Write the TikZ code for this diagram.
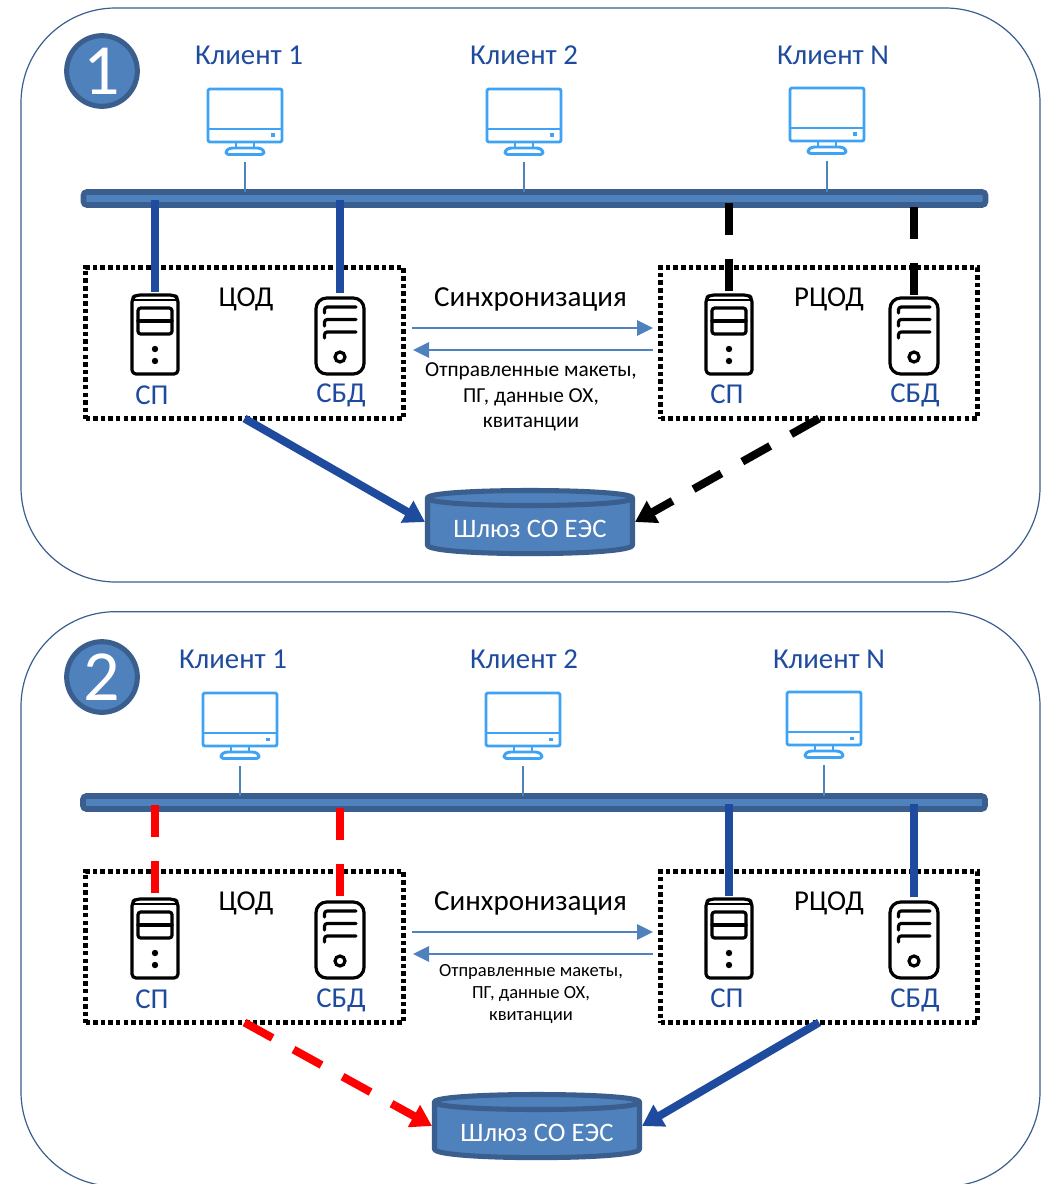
\documentclass[tikz,border=0pt]{standalone}
\usepackage{fontspec}
\setmainfont{Carlito}
\usetikzlibrary{arrows.meta,calc}
\definecolor{barfill}{HTML}{4F81BD}
\definecolor{barline}{HTML}{3A5F8F}
\definecolor{linkblue}{HTML}{1F4B9F}
\definecolor{monblue}{HTML}{3FA3F5}
\tikzset{
  every node/.style={outer sep=0pt,inner sep=0pt},
  panelbox/.style={draw=barline,line width=0.9pt,rounded corners=71pt,minimum width=764.25pt,fill=white},
  badge/.style={circle,draw=barline,fill=barfill,line width=3.8pt,minimum size=53pt,text=white,font=\fontsize{54}{54}\selectfont},
  busbar/.style={draw=barline,fill=barfill,line width=4.2pt,rounded corners=2.5pt,minimum width=676.5pt,minimum height=9.75pt},
  dotbox/.style={draw=black,line width=3.4pt,dash pattern=on 3.4pt off 2.3pt,minimum height=113.25pt},
  iconbox/.style={minimum width=37.5pt,minimum height=60pt},
  monbox/.style={minimum width=57pt,minimum height=51pt},
  clientlabel/.style={text=linkblue,font=\fontsize{21.6}{21.6}\selectfont},
  srvlabel/.style={text=linkblue,font=\fontsize{21.6}{21.6}\selectfont},
  dclabel/.style={text=black,font=\fontsize{21.6}{21.6}\selectfont},
  synclabel/.style={text=black,font=\fontsize{21.8}{21.8}\selectfont},
  smalllabel/.style={text=black,font=\fontsize{13.9}{16.5}\selectfont,align=center},
  gwlabel/.style={text=white,font=\fontsize{20}{20}\selectfont},
  cylbox/.style={minimum width=157.5pt,minimum height=50pt},
  clientlink/.style={draw=barfill,line width=0.9pt,shorten <=4.5pt},
  synclink/.style={draw=barfill,line width=1.6pt,-{Triangle[length=12pt,width=11.5pt]}},
  thick link/.style={line width=6pt},
  bigline/.style={line width=6pt},
  bigarrow/.style={line width=6pt,-{Triangle[length=15.5pt,width=18pt]}},
  longdash/.style={dash pattern=on 24pt off 18pt,shorten >=32pt},
  stubdash/.style={dash pattern=on 24pt off 18pt},
  iconline/.style={draw=black,line width=2.4pt,line join=round,line cap=round},
  monline/.style={draw=monblue,line width=2.2pt,line join=round}
}
% monitor icon, (#2,#3) = centre x, top y
\newcommand{\MonitorIcon}[3]{%
  \node[monbox] (#1) at (#2,#3+34) {};
  \begin{scope}[shift={(#2,#3)}]
    \draw[monline,rounded corners=1.5pt] (-37,1) rectangle (37,54);
    \draw[monline] (-37,41) -- (37,41);
    \fill[monblue] (26,45.5) rectangle (30,49);
    \draw[monline] (-9,54) -- (-9,60) (9,54) -- (9,60);
    \draw[monline,rounded corners=2pt] (-19,66.5) -- (-19,62.5) -- (-15,60) -- (15,60) -- (19,62.5) -- (19,66.5) -- cycle;
  \end{scope}}
% tower server with double drive bay
\newcommand{\ServerA}[3]{%
  \node[iconbox] (#1) at (#2,#3+41.5) {};
  \begin{scope}[shift={(#2,#3)}]
    \draw[iconline,rounded corners=3pt] (-23,81) -- (-23,5) -- (-19,2) -- (19,2) -- (23,5) -- (23,81) -- cycle;
    \draw[draw=black,line width=1.4pt] (-22,7) -- (22,7);
    \draw[iconline,rounded corners=2pt] (-17,15) rectangle (17,41);
    \draw[iconline] (-17,28) -- (17,28);
    \fill (0,56) circle[radius=3.2];
    \fill (0,68) circle[radius=3.2];
  \end{scope}}
% rounded server with three lines
\newcommand{\ServerB}[3]{%
  \node[iconbox] (#1) at (#2,#3+40) {};
  \begin{scope}[shift={(#2,#3)}]
    \draw[iconline,rounded corners=8pt] (-24,2) rectangle (24,78);
    \draw[iconline,rounded corners=2pt] (-15.5,17) -- (-15.5,11) -- (16,11);
    \draw[iconline,rounded corners=2pt] (-15.5,30) -- (-15.5,23.5) -- (16,23.5);
    \draw[iconline,rounded corners=2pt] (-15.5,42) -- (-15.5,36) -- (16,36);
    \draw[draw=black,line width=2.4pt] (0,61) circle[radius=5];
  \end{scope}}
% cylinder, (#2,#3) = outer top-left corner
\newcommand{\GatewayCyl}[3]{%
  \node[cylbox] (#1) at (#2+105,#3+34) {};
  \begin{scope}[shift={(#2,#3)}]
    \draw[draw=barline,fill=barfill,line width=3.8pt,line join=round]
      (2.5,10) .. controls (2.5,0) and (207.5,0) .. (207.5,10) -- (207.5,57)
      .. controls (207.5,68.5) and (2.5,68.5) .. (2.5,57) -- cycle;
    \draw[draw=barline,line width=3.8pt]
      (2.5,10) .. controls (2.5,20) and (207.5,20) .. (207.5,10);
  \end{scope}}
\begin{document}
\begin{tikzpicture}[x=0.75pt,y=-0.75pt]
\useasboundingbox (0,0) rectangle (1051,1184);
\begin{scope}
\clip (0,0) rectangle (1051,1184);
\node[panelbox,minimum height=430.5pt] (panelA) at (530.5,295) {};
\node[panelbox,minimum height=431pt] (panelB) at (530.5,899) {};
\end{scope}

% ---------- panel 1 ----------
\node[badge] (badgeA) at (102,71) {1};
\node[clientlabel] (cA1) at (249,55) {Клиент 1};
\node[clientlabel] (cA2) at (524,55) {Клиент 2};
\node[clientlabel] (cA3) at (833,55) {Клиент N};
\MonitorIcon{mA1}{245}{88}
\MonitorIcon{mA2}{524}{88}
\MonitorIcon{mA3}{827}{87}
\node[busbar] (busA) at (534.5,198.5) {};
\draw[clientlink] (mA1.south) -- (mA1.south |- busA.north);
\draw[clientlink] (mA2.south) -- (mA2.south |- busA.north);
\draw[clientlink] (mA3.south) -- (mA3.south |- busA.north);
\node[dotbox,minimum width=238.5pt] (dcA) at (244.5,343) {};
\node[dotbox,minimum width=237.75pt] (rcA) at (819,343) {};
\ServerA{spA}{155}{293}
\ServerB{dbA}{340}{296}
\ServerA{spB}{729}{293}
\ServerB{dbB}{914}{296}
\draw[linkblue,thick link,shorten <=1pt,shorten >=2pt] (spA.north |- busA.center) -- (spA.north);
\draw[linkblue,thick link,shorten <=1pt,shorten >=2pt] (dbA.north |- busA.center) -- (dbA.north);
\draw[black,thick link,stubdash,shorten <=3.4pt,shorten >=1.5pt] (spB.north |- busA.center) -- (spB.north);
\draw[black,thick link,stubdash,shorten <=6.4pt,shorten >=0.75pt] (dbB.north |- busA.center) -- (dbB.north);
\node[dclabel] (tdcA) at (246,299) {ЦОД};
\node[dclabel] (trcA) at (829,299) {РЦОД};
\node[srvlabel] (tspA) at (152,395) {СП};
\node[srvlabel] (tdbA) at (341,395) {СБД};
\node[srvlabel] (tspB) at (727,394) {СП};
\node[srvlabel] (tdbB) at (915,395) {СБД};
\node[synclabel] (syA) at (530.5,299) {Синхронизация};
\coordinate (sA1) at (412,328);
\coordinate (sA2) at (653,328);
\coordinate (sA3) at (653,350);
\coordinate (sA4) at (413,350);
\draw[synclink] (sA1) -- (sA2);
\draw[synclink] (sA3) -- (sA4);
\node[smalllabel,font=\fontsize{16}{19}\selectfont] (smA) at (531,397) {Отправленные макеты,\\ПГ, данные ОХ,\\квитанции};
\GatewayCyl{gwA}{425}{488}
\node[gwlabel] (tgwA) at (530,529) {Шлюз СО ЕЭС};
\draw[linkblue,bigarrow] (dcA.south) -- (gwA.west);
\draw[black,bigline,longdash] (rcA.south) -- (gwA.east);
\coordinate (stemA) at ($(gwA.east)!32pt!(rcA.south)$);
\draw[black,bigarrow] (stemA) -- (gwA.east);

% ---------- panel 2 ----------
\node[badge] (badgeB) at (102,677) {2};
\node[clientlabel] (cB1) at (233,659) {Клиент 1};
\node[clientlabel] (cB2) at (524,659) {Клиент 2};
\node[clientlabel] (cB3) at (829,659) {Клиент N};
\MonitorIcon{mB1}{240}{692}
\MonitorIcon{mB2}{523}{692}
\MonitorIcon{mB3}{824}{691}
\node[busbar] (busB) at (534,802.5) {};
\draw[clientlink] (mB1.south) -- (mB1.south |- busB.north);
\draw[clientlink] (mB2.south) -- (mB2.south |- busB.north);
\draw[clientlink] (mB3.south) -- (mB3.south |- busB.north);
\node[dotbox,minimum width=238.5pt] (dcB) at (244.5,947) {};
\node[dotbox,minimum width=237.75pt] (rcB) at (819,947) {};
\ServerA{spC}{155}{897}
\ServerB{dbC}{340}{900}
\ServerA{spD}{729}{897}
\ServerB{dbD}{914}{900}
\draw[red,thick link,stubdash,shorten <=2pt,shorten >=3pt] (spC.north |- busB.center) -- (spC.north);
\draw[red,thick link,stubdash,shorten <=4pt,shorten >=3pt] (dbC.north |- busB.center) -- (dbC.north);
\draw[linkblue,thick link,shorten <=1pt,shorten >=2pt] (spD.north |- busB.center) -- (spD.north);
\draw[linkblue,thick link,shorten <=1pt,shorten >=2pt] (dbD.north |- busB.center) -- (dbD.north);
\node[dclabel] (tdcB) at (246,903) {ЦОД};
\node[dclabel] (trcB) at (829,903) {РЦОД};
\node[srvlabel] (tspC) at (152,999) {СП};
\node[srvlabel] (tdbC) at (341,1000) {СБД};
\node[srvlabel] (tspD) at (727,998) {СП};
\node[srvlabel] (tdbD) at (915,1000) {СБД};
\node[synclabel] (syB) at (530.5,903) {Синхронизация};
\coordinate (sB1) at (412,932);
\coordinate (sB2) at (653,932);
\coordinate (sB3) at (653,954);
\coordinate (sB4) at (413,954);
\draw[synclink] (sB1) -- (sB2);
\draw[synclink] (sB3) -- (sB4);
\node[smalllabel] (smB) at (531,994) {Отправленные макеты,\\ПГ, данные ОХ,\\квитанции};
\GatewayCyl{gwB}{432}{1092}
\node[gwlabel] (tgwB) at (537,1133) {Шлюз СО ЕЭС};
\draw[red,bigline,longdash] (dcB.south) -- (gwB.west);
\coordinate (stemB) at ($(gwB.west)!32pt!(dcB.south)$);
\draw[red,bigarrow] (stemB) -- (gwB.west);
\draw[linkblue,bigarrow] (rcB.south) -- (gwB.east);
\end{tikzpicture}
\end{document}
